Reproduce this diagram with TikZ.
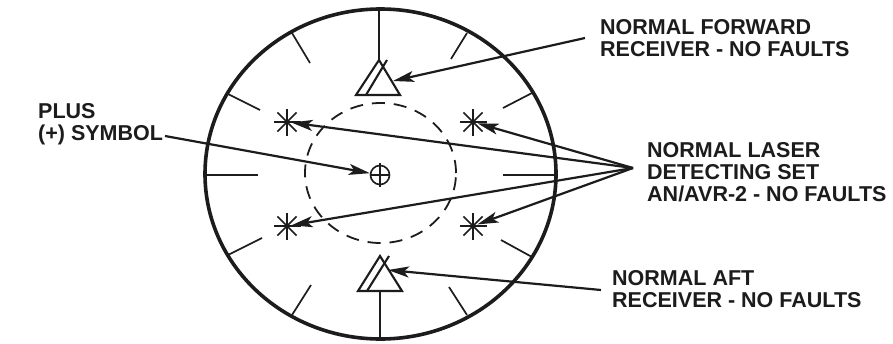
\documentclass[tikz,border=0pt]{standalone}
\usepackage{fontspec}
\setmainfont{Liberation Sans}
\usetikzlibrary{arrows.meta,shapes.geometric}
\definecolor{inkblack}{HTML}{1C1C1C}
\tikzset{
  dial/.style={draw=inkblack,line width=3.6pt,ellipse,inner sep=0pt,minimum width=351pt,minimum height=330pt},
  innerdial/.style={draw=inkblack,line width=1.8pt,ellipse,inner sep=0pt,minimum width=151pt,minimum height=140pt,dash pattern=on 13pt off 9pt},
  tick/.style={draw=inkblack,line width=1.7pt},
  tri/.style={draw=inkblack,line width=2.1pt,line join=miter},
  burst/.style={circle,inner sep=0pt,minimum size=9pt},
  plussym/.style={draw=inkblack,circle,line width=1.6pt,inner sep=0pt,minimum size=19pt},
  callout/.style={font=\bfseries\fontsize{21.5}{22}\selectfont,text=inkblack,align=left,anchor=west,inner sep=0pt},
  flow/.style={draw=inkblack,line width=2.2pt,-{Stealth[length=21pt,width=11pt,inset=5pt]}},
}
\begin{document}
\begin{tikzpicture}[x=1pt,y=-1pt]
  \useasboundingbox[fill=white] (0,0) rectangle (893,343);
  \node[dial] (outer) at (380.5,174) {};
  \node[innerdial] (inner) at (380.5,173) {};
  % bezel ticks
  \foreach \xa/\ya/\xb/\yb in {379/9/379/60, 380/291/380/338, 205/175/258/175, 503/175/556/175,
    292/33/310/63, 467/33/451/59, 228/94/260/110, 532/93/503/108,
    228/255/262/238, 532/257/501/240, 292/315/311/285, 467/315/449/287}
    \draw[tick] (\xa,\ya)--(\xb,\yb);
  % receivers
  \coordinate (fwdtop) at (379,60);
  \coordinate (afttop) at (380,256);
  \draw[tri] (fwdtop)--(400,95)--(356,95)--cycle;
  \draw[tri] (387,60)--(366,95);
  \draw[tri] (afttop)--(402,291)--(358,291)--cycle;
  \draw[tri] (389,256)--(367,291);
  % laser detectors
  \foreach \name/\x/\y in {sa/287/122, sb/473/122, sc/287/226, sd/473/226}{
    \node[burst] (\name) at (\x,\y) {};
    \foreach \ang in {0,45,...,315}
      \draw[tick] (\name.center)--++(\ang:13.5);
  }
  % plus symbol
  \node[plussym] (plus) at (380,175) {};
  \draw[tick,line width=1.3pt] (380,163)--(380,187);
  \draw[tick,line width=1.3pt] (plus.west)--(plus.east);
  % labels
  \node[callout] (fwdlabel) at (600,38) {NORMAL FORWARD\\RECEIVER - NO FAULTS};
  \node[callout] (laserlabel) at (647,172) {NORMAL LASER\\DETECTING SET\\AN/AVR-2 - NO FAULTS};
  \node[callout] (aftlabel) at (612,289.5) {NORMAL AFT\\RECEIVER - NO FAULTS};
  \node[callout] (pluslabel) at (38,124) {PLUS\\(+) SYMBOL};
  \coordinate (fwdtail) at (585,38);
  \coordinate (afttail) at (601,290);
  \coordinate (plustail) at (165,136);
  \coordinate (hub) at (633,168);
  \coordinate (fwdtip) at (393,81);
  \coordinate (afttip) at (388,270);
  % leaders
  \draw[flow] (fwdtail)--(fwdtip);
  \draw[flow] (afttail)--(afttip);
  \draw[flow] (plustail)--(plus);
  \foreach \name in {sa,sb,sc,sd}
    \draw[flow] (hub)--(\name);
\end{tikzpicture}
\end{document}
